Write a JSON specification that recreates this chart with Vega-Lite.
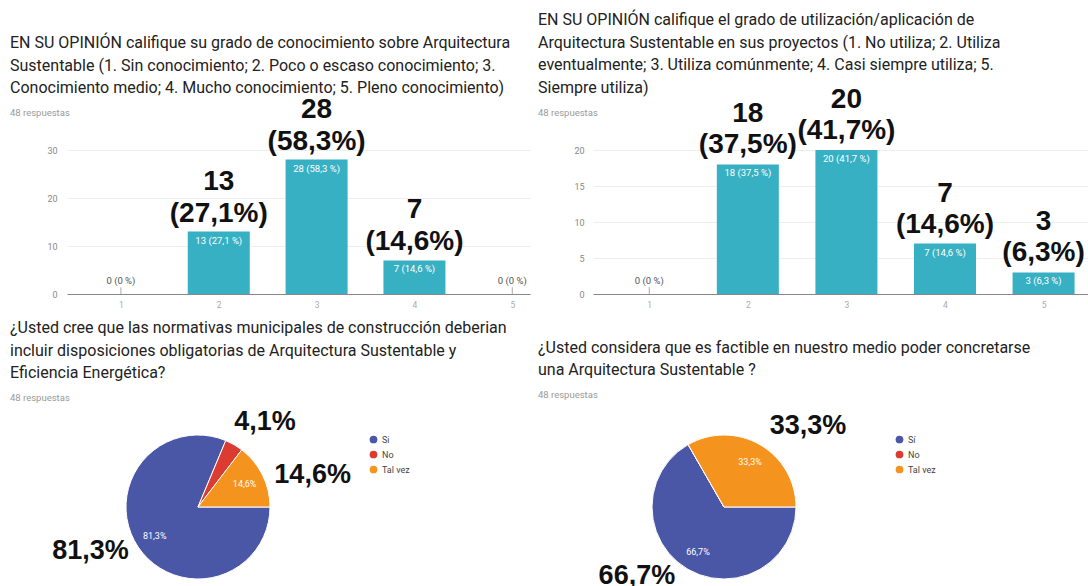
{
  "$schema": "https://vega.github.io/schema/vega-lite/v6.json",
  "padding": {"left": 10, "top": 12, "right": 0, "bottom": 0},
  "background": "white",
  "columns": 2,
  "spacing": {"row": 141, "column": 63},
  "bounds": "flush",
  "align": "each",
  "resolve": {"scale": {"x": "independent", "y": "independent", "color": "independent", "theta": "independent"}, "legend": {"color": "independent"}},
  "config": {
    "view": {"stroke": null},
    "title": {"font": "Roboto", "fontSize": 16, "fontWeight": "normal", "color": "#222222", "lineHeight": 22.5, "anchor": "start", "frame": "group", "subtitleFont": "Roboto", "subtitleFontSize": 9.5, "subtitleColor": "#9a9a9a", "subtitlePadding": 12},
    "axis": {"labelFont": "Roboto", "title": null, "ticks": false},
    "legend": {"labelFont": "Roboto", "labelFontSize": 9, "labelColor": "#444444", "symbolType": "circle", "symbolSize": 60, "symbolStrokeWidth": 0, "rowPadding": 5, "title": null, "orient": "right", "offset": 40}
  },
  "concat": [
    {
      "width": 463, "height": 144,
      "title": {"text": ["EN SU OPINIÓN califique su grado de conocimiento sobre Arquitectura", "Sustentable (1. Sin conocimiento; 2. Poco o escaso conocimiento; 3.", "Conocimiento medio; 4. Mucho conocimiento; 5. Pleno conocimiento)"], "subtitle": "48 respuestas", "dx": -57, "offset": -22},
      "data": {"values": [
        {"q": 1, "n": 0, "c": "", "big": "", "small": "0 (0 %)"},
        {"q": 2, "n": 13, "c": "13", "big": "(27,1%)", "small": "13 (27,1 %)"},
        {"q": 3, "n": 28, "c": "28", "big": "(58,3%)", "small": "28 (58,3 %)"},
        {"q": 4, "n": 7, "c": "7", "big": "(14,6%)", "small": "7 (14,6 %)"},
        {"q": 5, "n": 0, "c": "", "big": "", "small": "0 (0 %)"}
      ]},
      "encoding": {
        "x": {"field": "q", "type": "quantitative", "scale": {"domain": [0.5, 5.13], "nice": false, "zero": false}, "axis": {"values": [1, 2, 3, 4, 5], "format": "d", "grid": false, "labelPadding": 6, "labelFontSize": 8.5, "labelColor": "#aaaaaa", "domainColor": "#888888"}},
        "y": {"field": "n", "type": "quantitative", "scale": {"domain": [0, 30], "nice": false}, "axis": {"values": [0, 10, 20, 30], "grid": true, "gridColor": "#eeeeee", "domain": false, "labelPadding": 10, "labelFontSize": 9, "labelColor": "#888888"}}
      },
      "layer": [
        {"mark": {"type": "bar", "orient": "vertical", "width": 62, "color": "#37b0c3"}},
        {"transform": [{"filter": "datum.n == 0"}], "mark": {"type": "rule", "color": "#aaaaaa", "strokeWidth": 1}, "encoding": {"y": {"datum": 0}, "y2": {"datum": 1.4}}},
        {"transform": [{"filter": "datum.n > 0"}], "mark": {"type": "text", "font": "Liberation Sans", "fontWeight": "bold", "fontSize": 28, "color": "#111111", "baseline": "alphabetic", "dy": -42}, "encoding": {"text": {"field": "c"}}},
        {"transform": [{"filter": "datum.n > 0"}], "mark": {"type": "text", "font": "Liberation Sans", "fontWeight": "bold", "fontSize": 28, "color": "#111111", "baseline": "alphabetic", "dy": -10}, "encoding": {"text": {"field": "big"}}},
        {"transform": [{"filter": "datum.n > 0"}], "mark": {"type": "text", "font": "Roboto", "fontSize": 9.5, "color": "white", "baseline": "top", "dy": 4}, "encoding": {"text": {"field": "small"}}},
        {"transform": [{"filter": "datum.n == 0"}], "mark": {"type": "text", "font": "Roboto", "fontSize": 9.5, "color": "#555555", "baseline": "bottom", "dy": -8}, "encoding": {"text": {"field": "small"}}}
      ]
    },
    {
      "width": 495, "height": 144,
      "title": {"text": ["EN SU OPINIÓN califique el grado de utilización/aplicación de", "Arquitectura Sustentable en sus proyectos (1. No utiliza; 2. Utiliza", "eventualmente; 3. Utiliza comúnmente; 4. Casi siempre utiliza; 5.", "Siempre utiliza)"], "subtitle": "48 respuestas", "dx": -55, "offset": -31},
      "data": {"values": [
        {"q": 1, "n": 0, "c": "", "big": "", "small": "0 (0 %)"},
        {"q": 2, "n": 18, "c": "18", "big": "(37,5%)", "small": "18 (37,5 %)"},
        {"q": 3, "n": 20, "c": "20", "big": "(41,7%)", "small": "20 (41,7 %)"},
        {"q": 4, "n": 7, "c": "7", "big": "(14,6%)", "small": "7 (14,6 %)"},
        {"q": 5, "n": 3, "c": "3", "big": "(6,3%)", "small": "3 (6,3 %)"}
      ]},
      "encoding": {
        "x": {"field": "q", "type": "quantitative", "scale": {"domain": [0.48, 5.4], "nice": false, "zero": false}, "axis": {"values": [1, 2, 3, 4, 5], "format": "d", "grid": false, "labelPadding": 6, "labelFontSize": 8.5, "labelColor": "#aaaaaa", "domainColor": "#888888"}},
        "y": {"field": "n", "type": "quantitative", "scale": {"domain": [0, 20], "nice": false}, "axis": {"values": [0, 5, 10, 15, 20], "grid": true, "gridColor": "#eeeeee", "domain": false, "labelPadding": 9, "labelFontSize": 9, "labelColor": "#888888"}}
      },
      "layer": [
        {"mark": {"type": "bar", "orient": "vertical", "width": 62, "color": "#37b0c3"}},
        {"transform": [{"filter": "datum.n == 0"}], "mark": {"type": "rule", "color": "#aaaaaa", "strokeWidth": 1}, "encoding": {"y": {"datum": 0}, "y2": {"datum": 0.95}}},
        {"transform": [{"filter": "datum.n > 0"}], "mark": {"type": "text", "font": "Liberation Sans", "fontWeight": "bold", "fontSize": 28, "color": "#111111", "baseline": "alphabetic", "dy": -42}, "encoding": {"text": {"field": "c"}}},
        {"transform": [{"filter": "datum.n > 0"}], "mark": {"type": "text", "font": "Liberation Sans", "fontWeight": "bold", "fontSize": 28, "color": "#111111", "baseline": "alphabetic", "dy": -11}, "encoding": {"text": {"field": "big"}}},
        {"transform": [{"filter": "datum.n > 0"}], "mark": {"type": "text", "font": "Roboto", "fontSize": 9.5, "color": "white", "baseline": "top", "dy": 4}, "encoding": {"text": {"field": "small"}}},
        {"transform": [{"filter": "datum.n == 0"}], "mark": {"type": "text", "font": "Roboto", "fontSize": 9.5, "color": "#555555", "baseline": "bottom", "dy": -8}, "encoding": {"text": {"field": "small"}}}
      ]
    },
    {
      "width": 262, "height": 144,
      "title": {"text": ["¿Usted cree que las normativas municipales de construcción deberian", "incluir disposiciones obligatorias de Arquitectura Sustentable y", "Eficiencia Energética?"], "subtitle": "48 respuestas", "dx": -57, "offset": -22},
      "data": {"values": [
        {"cat": "Si", "o": 1, "v": 81.3, "lab": "81,3%"},
        {"cat": "No", "o": 2, "v": 4.1, "lab": "4,1%"},
        {"cat": "Tal vez", "o": 3, "v": 14.6, "lab": "14,6%"}
      ]},
      "encoding": {
        "theta": {"field": "v", "type": "quantitative", "stack": true, "scale": {"range": [1.5708, 7.854]}},
        "color": {"field": "cat", "type": "nominal", "scale": {"domain": ["Si", "No", "Tal vez"], "range": ["#4a56a6", "#dc3b31", "#f5931f"]}, "legend": {}},
        "order": {"field": "o", "type": "quantitative"}
      },
      "layer": [
        {"mark": {"type": "arc", "stroke": "white", "strokeWidth": 1}},
        {"mark": {"type": "text", "radius": 52, "font": "Roboto", "fontSize": 9}, "encoding": {"color": {"value": "white"}, "text": {"condition": {"test": "datum.v > 5", "field": "lab"}, "value": ""}}},
        {"mark": {"type": "text", "radius": 110, "dx": 12, "dy": 10, "font": "Liberation Sans", "fontWeight": "bold", "fontSize": 27}, "encoding": {"color": {"value": "#111111"}, "text": {"condition": {"test": "datum.cat === 'No'", "field": "lab"}, "value": ""}}},
        {"mark": {"type": "text", "radius": 110, "dx": 16, "dy": 17, "font": "Liberation Sans", "fontWeight": "bold", "fontSize": 27}, "encoding": {"color": {"value": "#111111"}, "text": {"condition": {"test": "datum.cat === 'Tal vez'", "field": "lab"}, "value": ""}}},
        {"mark": {"type": "text", "radius": 110, "dx": -16, "dy": -17, "font": "Liberation Sans", "fontWeight": "bold", "fontSize": 27}, "encoding": {"color": {"value": "#111111"}, "text": {"condition": {"test": "datum.cat === 'Si'", "field": "lab"}, "value": ""}}}
      ]
    },
    {
      "width": 262, "height": 144,
      "title": {"text": ["¿Usted considera que es factible en nuestro medio poder concretarse", "una Arquitectura Sustentable ?"], "subtitle": "48 respuestas", "dx": -55, "offset": -28},
      "data": {"values": [
        {"cat": "Sí", "o": 1, "v": 66.7, "lab": "66,7%"},
        {"cat": "No", "o": 2, "v": 0, "lab": ""},
        {"cat": "Tal vez", "o": 3, "v": 33.3, "lab": "33,3%"}
      ]},
      "encoding": {
        "theta": {"field": "v", "type": "quantitative", "stack": true, "scale": {"range": [1.5708, 7.854]}},
        "color": {"field": "cat", "type": "nominal", "scale": {"domain": ["Sí", "No", "Tal vez"], "range": ["#4a56a6", "#dc3b31", "#f5931f"]}, "legend": {}},
        "order": {"field": "o", "type": "quantitative"}
      },
      "layer": [
        {"mark": {"type": "arc", "stroke": "white", "strokeWidth": 1}},
        {"mark": {"type": "text", "radius": 52, "font": "Roboto", "fontSize": 9}, "encoding": {"color": {"value": "white"}, "text": {"condition": {"test": "datum.v > 5", "field": "lab"}, "value": ""}}},
        {"mark": {"type": "text", "radius": 110, "dx": 29, "dy": 14, "font": "Liberation Sans", "fontWeight": "bold", "fontSize": 27}, "encoding": {"color": {"value": "#111111"}, "text": {"condition": {"test": "datum.cat === 'Tal vez'", "field": "lab"}, "value": ""}}},
        {"mark": {"type": "text", "radius": 110, "dx": -32, "dy": -26, "font": "Liberation Sans", "fontWeight": "bold", "fontSize": 27}, "encoding": {"color": {"value": "#111111"}, "text": {"condition": {"test": "datum.cat === 'Sí'", "field": "lab"}, "value": ""}}}
      ]
    }
  ]
}
